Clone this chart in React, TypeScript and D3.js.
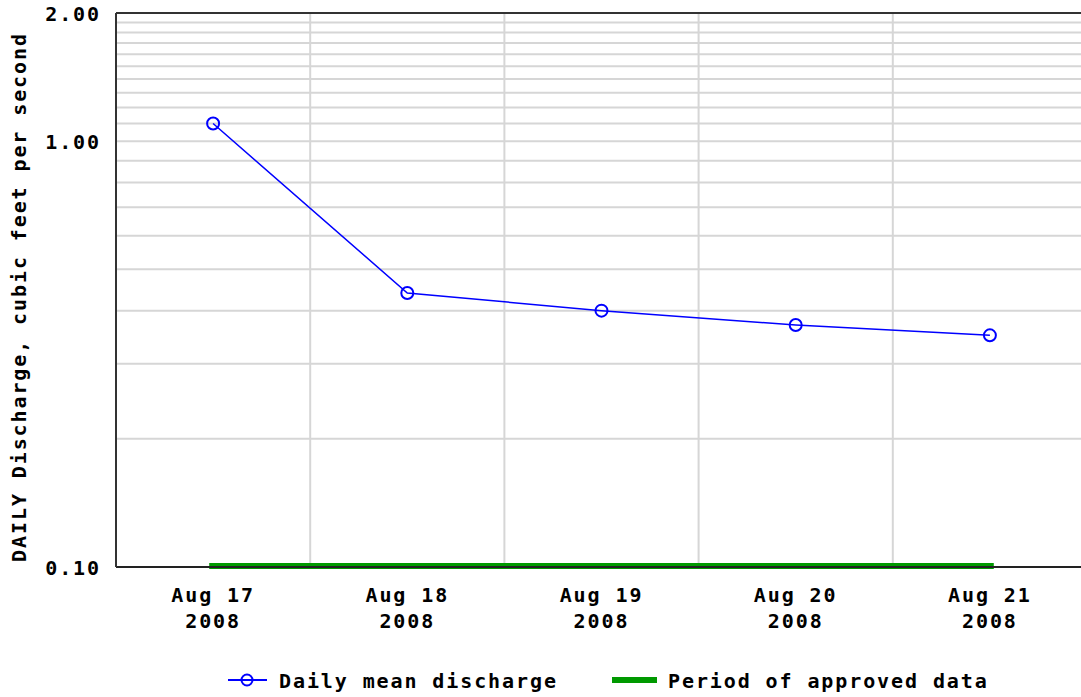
import * as d3 from "d3";
import React from "react";

const width = 1081;
const height = 697;
const margin = { top: 13, left: 116, bottom: 130 };

// data
const dayLabels = ["Aug 17", "Aug 18", "Aug 19", "Aug 20", "Aug 21"];
const yearLabel = "2008";
const discharge = [1.1, 0.44, 0.4, 0.37, 0.35];
const yTickValues = [0.1, 1.0, 2.0];
const yGridValues = [
  0.2, 0.3, 0.4, 0.5, 0.6, 0.7, 0.8, 0.9, 1.0, 1.1, 1.2, 1.3, 1.4, 1.5, 1.6,
  1.7, 1.8, 1.9,
];
const dayBoundaries = [0.5, 1.5, 2.5, 3.5, 4.5];
const approvedPeriod = [-0.02, 4.02];

const font = "'DejaVu Sans Mono', monospace";
const textStyle = {
  fontFamily: font,
  fontWeight: "bold",
  fontSize: 20,
  letterSpacing: 1.9,
  fill: "#000",
} as const;

const App = () => {
  const bottom = height - margin.bottom;
  const xScale = d3.scaleLinear().domain([-0.5, 4.5]).range([margin.left, 1087]);
  const yScale = d3.scaleLog().domain([0.1, 2]).range([bottom, margin.top]);

  const line = d3
    .line<number>()
    .x((d, i) => xScale(i))
    .y((d) => yScale(d));

  return (
    <svg
      width={width}
      height={height}
      style={{ position: "absolute", left: 0, top: 0, background: "#fff" }}
    >
      {/* horizontal grid */}
      {yGridValues.map((v) => (
        <line
          key={"h" + v}
          x1={margin.left}
          x2={width}
          y1={yScale(v)}
          y2={yScale(v)}
          stroke="#d6d6d6"
          strokeWidth={2}
        />
      ))}
      {/* vertical grid at day boundaries */}
      {dayBoundaries.map((v) => (
        <line
          key={"v" + v}
          x1={xScale(v)}
          x2={xScale(v)}
          y1={margin.top}
          y2={bottom}
          stroke="#d6d6d6"
          strokeWidth={2}
        />
      ))}

      {/* approved data period */}
      <rect
        x={xScale(approvedPeriod[0])}
        width={xScale(approvedPeriod[1]) - xScale(approvedPeriod[0])}
        y={bottom - 4}
        height={6}
        fill="#009900"
      />

      {/* frame */}
      <line x1={margin.left} x2={width} y1={margin.top} y2={margin.top} stroke="#333" strokeWidth={2} />
      <line x1={margin.left} x2={width} y1={bottom} y2={bottom} stroke="#222" strokeWidth={2} />
      <line x1={margin.left} x2={margin.left} y1={margin.top} y2={bottom} stroke="#333" strokeWidth={2} />

      {/* series */}
      <path d={line(discharge) ?? ""} fill="none" stroke="#0000ff" strokeWidth={1.5} />
      {discharge.map((d, i) => (
        <circle
          key={"c" + i}
          cx={xScale(i)}
          cy={yScale(d)}
          r={6}
          fill="none"
          stroke="#0000ff"
          strokeWidth={2}
        />
      ))}

      {/* y tick labels */}
      {yTickValues.map((v) => (
        <text
          key={"yt" + v}
          x={101}
          y={yScale(v) + 8}
          textAnchor="end"
          style={textStyle}
        >
          {v.toFixed(2)}
        </text>
      ))}

      {/* x tick labels */}
      {dayLabels.map((lab, i) => (
        <g key={"xt" + i}>
          <text x={xScale(i)} y={602} textAnchor="middle" style={textStyle}>
            {lab}
          </text>
          <text x={xScale(i)} y={628} textAnchor="middle" style={textStyle}>
            {yearLabel}
          </text>
        </g>
      ))}

      {/* y axis title */}
      <text
        transform={`translate(26, ${(margin.top + bottom) / 2 + 7}) rotate(-90)`}
        textAnchor="middle"
        style={textStyle}
      >
        DAILY Discharge, cubic feet per second
      </text>

      {/* legend */}
      <g>
        <line x1={228} x2={267} y1={680} y2={680} stroke="#0000ff" strokeWidth={2} />
        <circle cx={247} cy={680} r={5.5} fill="none" stroke="#0000ff" strokeWidth={2} />
        <text x={279} y={688} style={textStyle}>
          Daily mean discharge
        </text>
        <rect x={612} y={677} width={45} height={6} fill="#009900" />
        <text x={668} y={688} style={textStyle}>
          Period of approved data
        </text>
      </g>
    </svg>
  );
};

export default App;
